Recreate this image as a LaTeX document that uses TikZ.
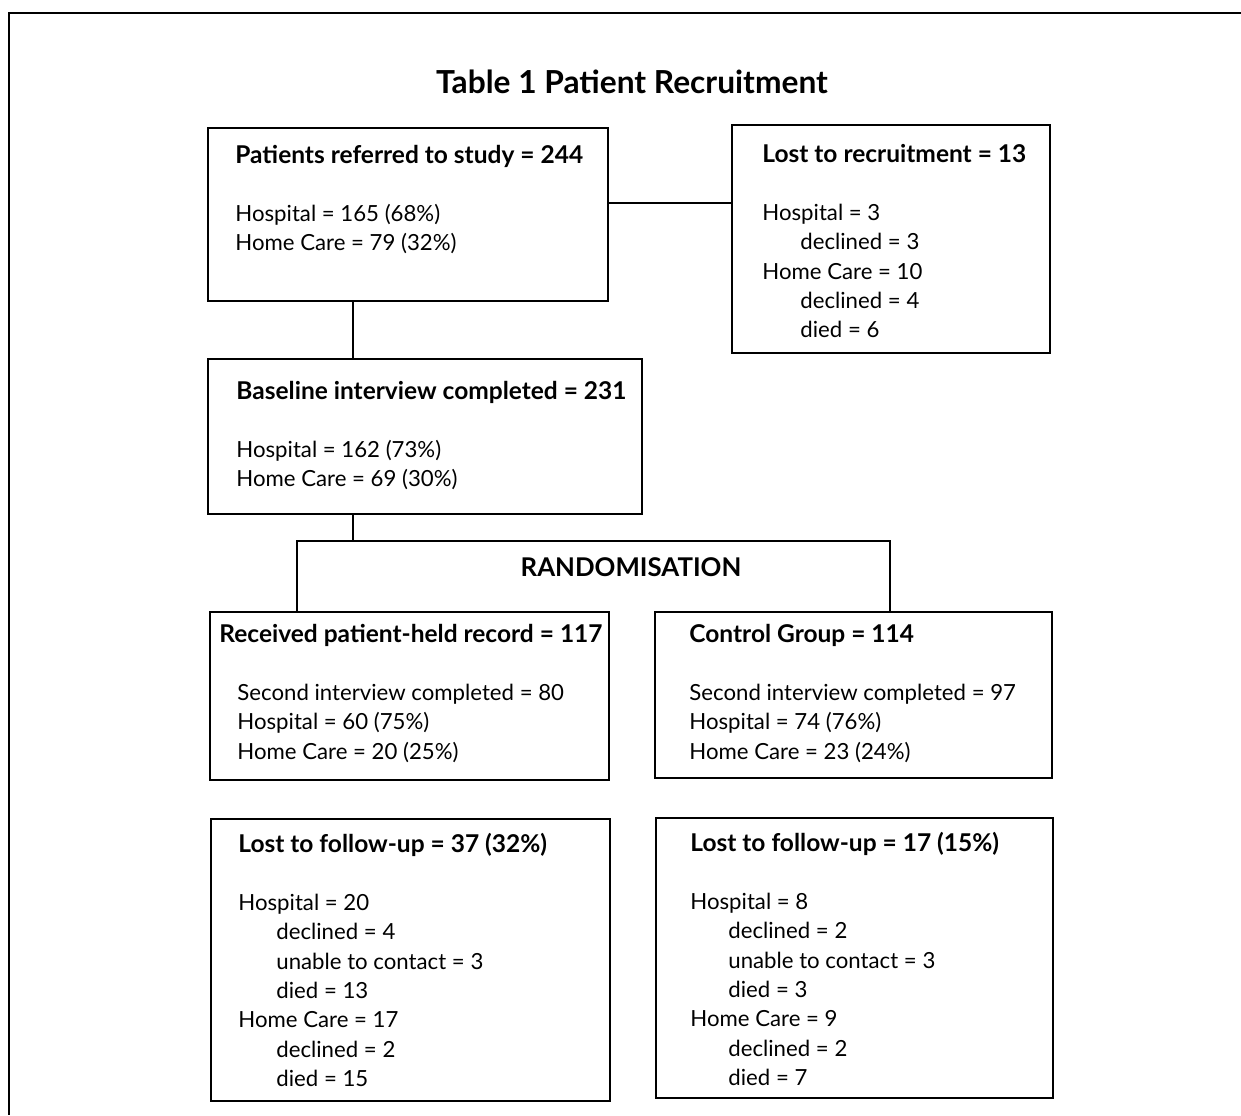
\documentclass[tikz,border=0pt]{standalone}
\usepackage{fontspec}
\setmainfont{Lato}
\newcommand\indline{\hspace*{19pt}}
\newcommand\boxhead[1]{{\fontsize{12.25}{14.65}\selectfont\bfseries #1}}
\newcommand\boxtext[1]{\begin{tabular}[t]{@{}l@{}}#1\end{tabular}}
\tikzset{
  box/.style={draw, line width=1pt, anchor=north west, inner sep=0pt},
  txt/.style={anchor=base west, inner sep=0pt, font=\fontsize{11.1}{14.65}\selectfont},
  head/.style={anchor=base, inner sep=0pt, font=\bfseries\fontsize{12.9}{14.65}\selectfont},
  link/.style={line width=0.7pt}
}
\begin{document}
\begin{tikzpicture}[x=0.5pt, y=-0.5pt]
            \useasboundingbox (0,0) rectangle (1241,1115);
            \draw[line width=1pt] (1241,13) -- (9,13) -- (9,1115);
            \draw (632,93) node[head, font=\bfseries\fontsize{15.85}{18}\selectfont] (title) {Table 1 Patient Recruitment};

            \draw (207,127) node[box, minimum width=200pt, minimum height=86.5pt] (referred) {};
            \draw (731,124) node[box, minimum width=159pt, minimum height=114pt] (lostrec) {};
            \draw (207,358) node[box, minimum width=217pt, minimum height=77.5pt] (baseline) {};
            \draw (209,611) node[box, minimum width=199.5pt, minimum height=84pt] (phr) {};
            \draw (654,611) node[box, minimum width=198.5pt, minimum height=83pt] (control) {};
            \draw (210,818) node[box, minimum width=199.5pt, minimum height=141pt] (lostphr) {};
            \draw (655,817) node[box, minimum width=198.5pt, minimum height=140pt] (lostctl) {};

            \draw (235,163) node[txt] (referredtxt) {\boxtext{\boxhead{Patients referred to study = 244}\\ \\
              Hospital = 165 (68\%)\\ Home Care = 79 (32\%)}};
            \draw (762,162) node[txt] (lostrectxt) {\boxtext{\boxhead{Lost to recruitment = 13}\\ \\
              Hospital = 3\\ \indline declined = 3\\ Home Care = 10\\ \indline declined = 4\\ \indline died = 6}};
            \draw (236,399) node[txt] (baselinetxt) {\boxtext{\boxhead{Baseline interview completed = 231}\\ \\
              Hospital = 162 (73\%)\\ Home Care = 69 (30\%)}};
            \draw (237,642) node[txt] (phrtxt) {\boxtext{\hspace*{-9pt}\boxhead{Received patient-held record = 117}\\ \\
              Second interview completed = 80\\ Hospital = 60 (75\%)\\ Home Care = 20 (25\%)}};
            \draw (689,642) node[txt] (controltxt) {\boxtext{\boxhead{Control Group = 114}\\ \\
              Second interview completed = 97\\ Hospital = 74 (76\%)\\ Home Care = 23 (24\%)}};
            \draw (238,852) node[txt] (lostphrtxt) {\boxtext{\boxhead{Lost to follow-up = 37 (32\%)}\\ \\
              Hospital = 20\\ \indline declined = 4\\ \indline unable to contact = 3\\ \indline died = 13\\
              Home Care = 17\\ \indline declined = 2\\ \indline died = 15}};
            \draw (690,851) node[txt] (lostctltxt) {\boxtext{\boxhead{Lost to follow-up = 17 (15\%)}\\ \\
              Hospital = 8\\ \indline declined = 2\\ \indline unable to contact = 3\\ \indline died = 3\\
              Home Care = 9\\ \indline declined = 2\\ \indline died = 7}};

            \draw (631,576) node[head] (rand) {RANDOMISATION};
            \coordinate (recrow) at (670,203);
            \coordinate (spine) at (353,541);
            \coordinate (randl) at (297,541);
            \coordinate (randr) at (890,541);

            \draw[link] (referred.east |- recrow) -- (lostrec.west |- recrow);
            \draw[link] (referred.south -| spine) -- (baseline.north -| spine);
            \draw[link] (baseline.south -| spine) -- (spine);
            \draw[link] (phr.north -| randl) -- (randl) -- (randr) -- (control.north -| randr);
        \end{tikzpicture}
\end{document}
